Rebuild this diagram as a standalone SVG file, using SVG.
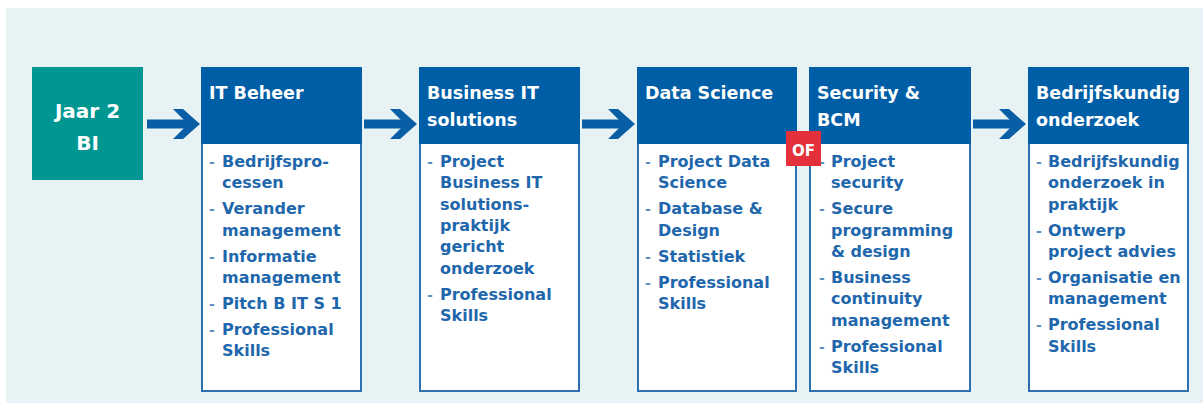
<svg xmlns="http://www.w3.org/2000/svg" width="1203" height="403" viewBox="0 0 1203 403">
<style>
.bg{fill:#e6f2f3}
.hdr{fill:#005ea6}
.body{fill:#ffffff;stroke:#2f70b1;stroke-width:2}
.ht{font-family:"DejaVu Sans",sans-serif;font-weight:bold;font-size:17.5px;fill:#ffffff}
.it{font-family:"DejaVu Sans",sans-serif;font-weight:bold;font-size:16px;fill:#1f67ac}
.bl{font-family:"DejaVu Sans",sans-serif;font-weight:bold;font-size:14px;fill:#5b8fc4}
.arr{fill:#0a5ea5}
.jt{font-family:"DejaVu Sans",sans-serif;font-weight:bold;font-size:20px;fill:#ffffff;text-anchor:middle}
</style>
<defs>
<g id="arrow"><rect x="0" y="-4.5" width="46" height="9"/><polygon points="26,-15 36,-15 53,0 36,15 26,15 41,0"/></g>
</defs>
<rect x="0" y="0" width="1203" height="403" fill="#ffffff"/>
<rect class="bg" x="6" y="8" width="1197" height="395"/>

<g id="connectors" class="arr">
<use href="#arrow" x="147" y="124"/>
<use href="#arrow" x="364" y="124"/>
<use href="#arrow" x="582" y="124"/>
<use href="#arrow" x="973" y="124"/>
</g>

<g id="jaar2">
<rect x="32" y="67" width="111" height="113" fill="#009792"/>
<text class="jt" x="87.5" y="118">Jaar 2</text>
<text class="jt" x="87.5" y="150">BI</text>
</g>

<g id="it-beheer">
<rect class="body" x="202" y="143" width="159" height="248"/>
<rect class="hdr" x="201" y="67" width="161" height="77"/>
<text class="ht" x="209" y="99">IT Beheer</text>
<text class="bl" x="209" y="167">-</text><text class="it" x="222" y="167">Bedrijfspro-</text>
<text class="it" x="222" y="188.3">cessen</text>
<text class="bl" x="209" y="214.3">-</text><text class="it" x="222" y="214.3">Verander</text>
<text class="it" x="222" y="235.6">management</text>
<text class="bl" x="209" y="261.6">-</text><text class="it" x="222" y="261.6">Informatie</text>
<text class="it" x="222" y="282.9">management</text>
<text class="bl" x="209" y="308.9">-</text><text class="it" x="222" y="308.9">Pitch B IT S 1</text>
<text class="bl" x="209" y="334.9">-</text><text class="it" x="222" y="334.9">Professional</text>
<text class="it" x="222" y="356.2">Skills</text>
</g>

<g id="business-it">
<rect class="body" x="420" y="143" width="159" height="248"/>
<rect class="hdr" x="419" y="67" width="161" height="77"/>
<text class="ht" x="427" y="99">Business IT</text>
<text class="ht" x="427" y="126">solutions</text>
<text class="bl" x="427" y="167">-</text><text class="it" x="440" y="167">Project</text>
<text class="it" x="440" y="188.3">Business IT</text>
<text class="it" x="440" y="209.6">solutions-</text>
<text class="it" x="440" y="230.9">praktijk</text>
<text class="it" x="440" y="252.2">gericht</text>
<text class="it" x="440" y="273.5">onderzoek</text>
<text class="bl" x="427" y="299.5">-</text><text class="it" x="440" y="299.5">Professional</text>
<text class="it" x="440" y="320.8">Skills</text>
</g>

<g id="data-science">
<rect class="body" x="638" y="143" width="158" height="248"/>
<rect class="hdr" x="637" y="67" width="160" height="77"/>
<text class="ht" x="645" y="99">Data Science</text>
<text class="bl" x="645" y="167">-</text><text class="it" x="658" y="167">Project Data</text>
<text class="it" x="658" y="188.3">Science</text>
<text class="bl" x="645" y="214.3">-</text><text class="it" x="658" y="214.3">Database &amp;</text>
<text class="it" x="658" y="235.6">Design</text>
<text class="bl" x="645" y="261.6">-</text><text class="it" x="658" y="261.6">Statistiek</text>
<text class="bl" x="645" y="287.6">-</text><text class="it" x="658" y="287.6">Professional</text>
<text class="it" x="658" y="308.9">Skills</text>
</g>

<g id="security-bcm">
<rect class="body" x="810" y="143" width="160" height="248"/>
<rect class="hdr" x="809" y="67" width="162" height="77"/>
<text class="ht" x="817" y="99">Security &amp;</text>
<text class="ht" x="817" y="126">BCM</text>
<text class="bl" x="819" y="167">-</text><text class="it" x="831" y="167">Project</text>
<text class="it" x="831" y="188.3">security</text>
<text class="bl" x="819" y="214.3">-</text><text class="it" x="831" y="214.3">Secure</text>
<text class="it" x="831" y="235.6">programming</text>
<text class="it" x="831" y="256.9">&amp; design</text>
<text class="bl" x="819" y="282.9">-</text><text class="it" x="831" y="282.9">Business</text>
<text class="it" x="831" y="304.2">continuity</text>
<text class="it" x="831" y="325.5">management</text>
<text class="bl" x="819" y="351.5">-</text><text class="it" x="831" y="351.5">Professional</text>
<text class="it" x="831" y="372.8">Skills</text>
</g>

<g id="of-badge">
<rect x="786" y="131" width="35" height="35" fill="#e3303a"/>
<text x="803.5" y="155.5" font-family="DejaVu Sans, sans-serif" font-weight="bold" font-size="15" fill="#ffffff" text-anchor="middle">OF</text>
</g>

<g id="bedrijfskundig">
<rect class="body" x="1029" y="143" width="159" height="248"/>
<rect class="hdr" x="1028" y="67" width="161" height="77"/>
<text class="ht" x="1036" y="99">Bedrijfskundig</text>
<text class="ht" x="1036" y="126">onderzoek</text>
<text class="bl" x="1036" y="167">-</text><text class="it" x="1048" y="167">Bedrijfskundig</text>
<text class="it" x="1048" y="188.3">onderzoek in</text>
<text class="it" x="1048" y="209.6">praktijk</text>
<text class="bl" x="1036" y="235.6">-</text><text class="it" x="1048" y="235.6">Ontwerp</text>
<text class="it" x="1048" y="256.9">project advies</text>
<text class="bl" x="1036" y="282.9">-</text><text class="it" x="1048" y="282.9">Organisatie en</text>
<text class="it" x="1048" y="304.2">management</text>
<text class="bl" x="1036" y="330.2">-</text><text class="it" x="1048" y="330.2">Professional</text>
<text class="it" x="1048" y="351.5">Skills</text>
</g>
</svg>
